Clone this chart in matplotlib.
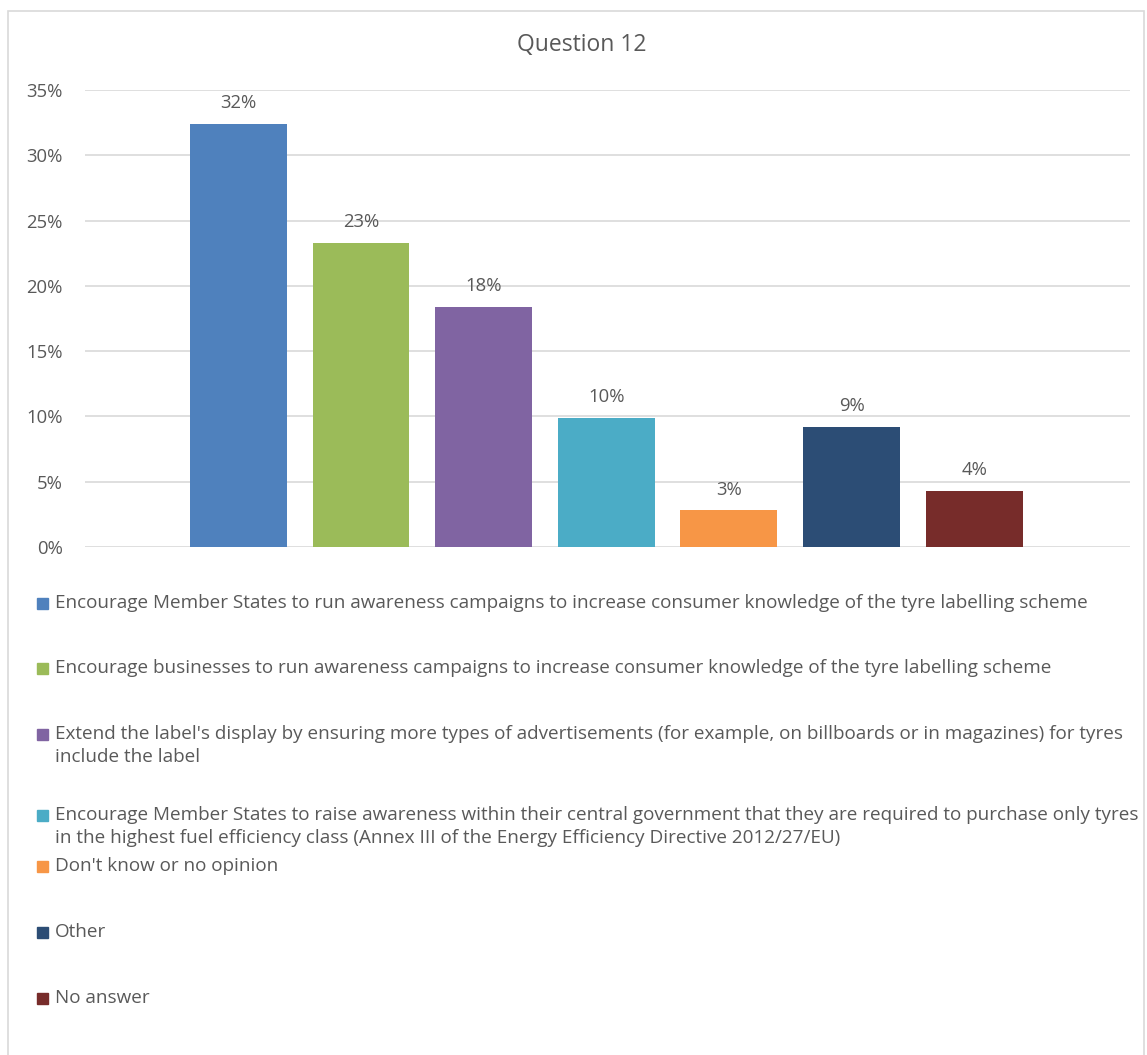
import matplotlib.pyplot as plt
from matplotlib.patches import Rectangle

# survey answers, question 12
labels = [
    "Encourage Member States to run awareness campaigns to increase consumer knowledge of the tyre labelling scheme",
    "Encourage businesses to run awareness campaigns to increase consumer knowledge of the tyre labelling scheme",
    "Extend the label's display by ensuring more types of advertisements (for example, on billboards or in magazines) for tyres\ninclude the label",
    "Encourage Member States to raise awareness within their central government that they are required to purchase only tyres\nin the highest fuel efficiency class (Annex III of the Energy Efficiency Directive 2012/27/EU)",
    "Don't know or no opinion",
    "Other",
    "No answer",
]
values = [32.4, 23.3, 18.4, 9.9, 2.8, 9.2, 4.3]
value_labels = ["32%", "23%", "18%", "10%", "3%", "9%", "4%"]
colors = ["#4f81bd", "#9bbb59", "#8064a2", "#4bacc6", "#f79646", "#2c4d75", "#772c2a"]

W, H = 1147, 1055
plt.rcParams['font.family'] = ['Open Sans', 'DejaVu Sans']
txt = "#595959"
fs = 13.3

fig = plt.figure(figsize=(W / 100, H / 100), dpi=100)
fig.patches.append(Rectangle((8 / W, -0.02), (1144 - 8) / W, 1.02 - 11 / H,
                             transform=fig.transFigure, fill=False,
                             edgecolor="#d9d9d9", linewidth=1.2))

ax = fig.add_axes([85 / W, 1 - 547 / H, (1130 - 85) / W, (547 - 90) / H])
x = list(range(len(values)))
ax.bar(x, values, width=0.79, color=colors, zorder=3)
for xi, v, lab in zip(x, values, value_labels):
    ax.annotate(lab, (xi, v), xytext=(0, 15), textcoords="offset points",
                ha="center", va="center", fontsize=fs, color=txt)

ax.set_ylim(0, 35)
ax.set_xlim(-1.25, 7.27)
ax.set_yticks(range(0, 36, 5))
ax.set_yticklabels([f"{t}%" for t in range(0, 36, 5)], fontsize=fs, color=txt)
ax.set_xticks([])
ax.grid(axis="y", color="#d9d9d9", linewidth=1.2, zorder=0)
for s in ax.spines.values():
    s.set_visible(False)
ax.tick_params(axis="y", length=0, pad=16)

fig.text(582 / W, 1 - 45 / H, "Question 12", ha="center", va="center",
         fontsize=16.5, color=txt)

# legend drawn by hand so entry spacing follows the original
leg_y = [603, 668, 734, 815, 866, 932, 998]
for lab, c, yy in zip(labels, colors, leg_y):
    fig.patches.append(Rectangle((37 / W, 1 - (yy + 6) / H), 11 / W, 11 / H,
                                 transform=fig.transFigure, color=c))
    for i, line in enumerate(lab.split("\n")):
        fig.text(55 / W, 1 - (yy + 23 * i) / H, line, ha="left", va="center",
                 fontsize=13.55, color=txt)

fig.savefig("out.png", dpi=100)
